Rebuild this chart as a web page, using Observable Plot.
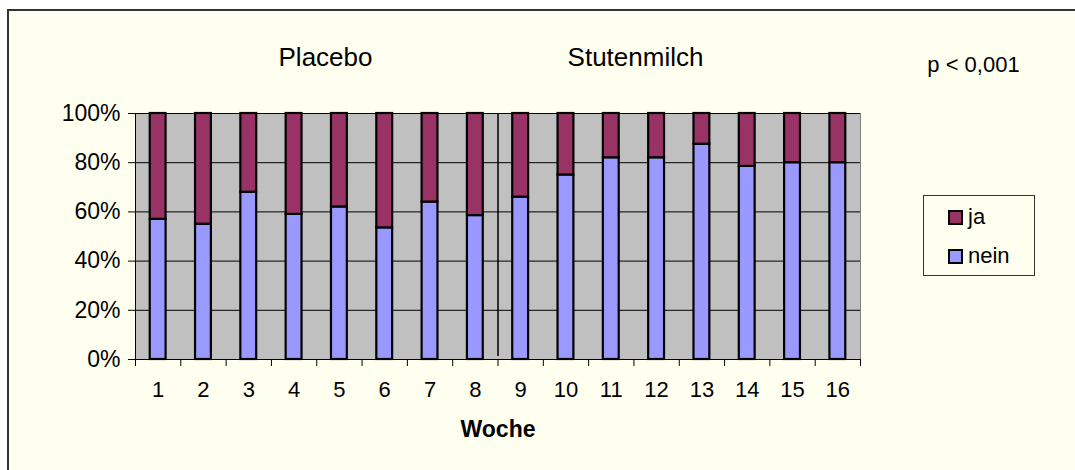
<!DOCTYPE html>
<html><head><meta charset="utf-8">
<script src="https://cdn.jsdelivr.net/npm/d3@7"></script>
<script src="https://cdn.jsdelivr.net/npm/@observablehq/plot@0.6"></script>
<style>
body{margin:0;background:#fff;}
#wrap{position:relative;width:1075px;height:470px;overflow:hidden;background:#fff;font-family:"Liberation Sans",Arial,sans-serif;}
#panel{position:absolute;left:7px;top:9px;width:1100px;height:500px;background:#FFFFF0;border-top:2px solid #333;border-left:2px solid #333;}
#chart{position:absolute;left:0;top:0;}
#legend{position:absolute;left:923px;top:195px;width:112px;height:81px;border:1px solid #333;box-sizing:border-box;}
.item{position:absolute;left:24px;height:26px;display:flex;align-items:center;font-size:22px;color:#000;}
.sw{width:11px;height:11px;border:2px solid #000;margin-right:5px;}
</style></head>
<body>
<div id="wrap"><div id="panel"></div><div id="chart"></div><div id="legend"></div></div>
<script>
const weeks = [1,2,3,4,5,6,7,8,9,10,11,12,13,14,15,16];
const nein = [57, 55, 68, 59, 62, 53.5, 64, 58.5, 66, 75, 82, 82, 87.5, 78.5, 80, 80];
const ja   = [43, 45, 32, 41, 38, 46.5, 36, 41.5, 34, 25, 18, 18, 12.5, 21.5, 20, 20];
const yTicks = [0, 0.2, 0.4, 0.6, 0.8, 1];
const groupLabels = ["Placebo", "Stutenmilch"];
const pText = "p < 0,001";
const xTitle = "Woche";
const seriesNames = ["ja", "nein"];
const seriesColors = ["#993366", "#9999FF"];

const rows = [];
weeks.forEach((w, i) => {
  rows.push({week: w, series: "nein", y1: 0, y2: nein[i] / 100});
  rows.push({week: w, series: "ja", y1: nein[i] / 100, y2: (nein[i] + ja[i]) / 100});
});
const boundaries = [0, ...weeks].map(w => w + 0.5);

const chart = Plot.plot({
  width: 1075, height: 470,
  marginLeft: 135, marginRight: 215, marginTop: 113, marginBottom: 111,
  style: {background: "transparent", fontFamily: "'Liberation Sans', Arial, sans-serif", color: "#000", overflow: "visible"},
  x: {domain: [0.5, 16.5]},
  y: {domain: [0, 1]},
  color: {domain: seriesNames, range: seriesColors},
  marks: [
    Plot.frame({fill: "#C0C0C0", stroke: "#808080"}),
    Plot.ruleY(yTicks, {stroke: "#000", strokeWidth: 1}),
    Plot.ruleX([8.5], {y1: 0.012, y2: 1, stroke: "#000", strokeWidth: 1.5}),
    Plot.rect(rows, {x1: d => d.week - 0.175, x2: d => d.week + 0.175, y1: "y1", y2: "y2", fill: "series", stroke: "#000", strokeWidth: 2.2}),
    Plot.ruleX([0.5], {stroke: "#000"}),
    Plot.ruleY([0], {stroke: "#000"}),
    Plot.axisY(yTicks, {tickSize: 7, tickPadding: 8, tickFormat: d => Math.round(d * 100) + "%", label: null, fontSize: 23, stroke: "#000"}),
    Plot.axisX(boundaries, {tickSize: 7, tickFormat: () => "", label: null, stroke: "#000"}),
    Plot.axisX(weeks, {tickSize: 0, tickPadding: 22, label: null, fontSize: 22}),
    Plot.text([xTitle], {frameAnchor: "bottom", lineAnchor: "middle", dy: 70, fontWeight: "bold", fontSize: 23, fill: "#000"}),
    Plot.text([groupLabels[0]], {frameAnchor: "top-left", textAnchor: "middle", lineAnchor: "middle", dx: 190, dy: -56, fontSize: 26, fill: "#000"}),
    Plot.text([groupLabels[1]], {frameAnchor: "top-left", textAnchor: "middle", lineAnchor: "middle", dx: 500, dy: -56, fontSize: 26, fill: "#000"}),
    Plot.text([pText], {frameAnchor: "top-left", textAnchor: "middle", lineAnchor: "middle", dx: 838, dy: -49, fontSize: 22, fill: "#000"})
  ]
});
document.getElementById("chart").appendChild(chart);

const legend = document.getElementById("legend");
const tops = [8, 47];
seriesNames.forEach((s, i) => {
  const it = document.createElement("div");
  it.className = "item";
  it.style.top = tops[i] + "px";
  const sw = document.createElement("div");
  sw.className = "sw";
  sw.style.background = seriesColors[i];
  const t = document.createElement("span");
  t.textContent = s;
  it.appendChild(sw); it.appendChild(t);
  legend.appendChild(it);
});
</script>
</body></html>
